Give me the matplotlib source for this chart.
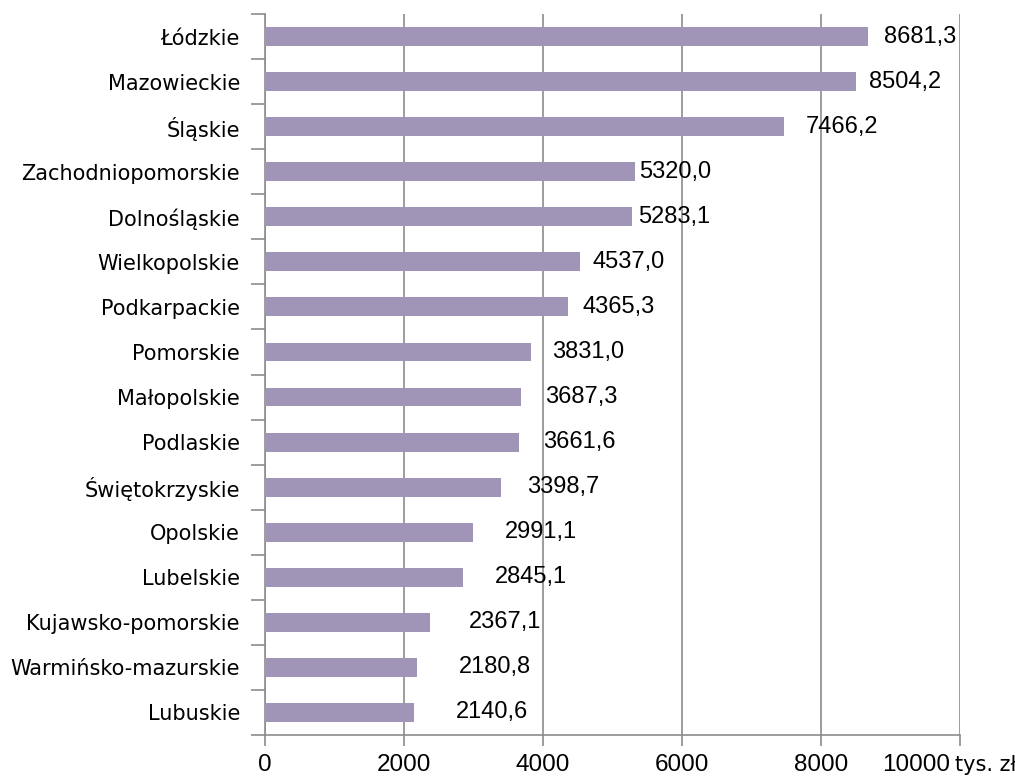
import matplotlib
matplotlib.use('Agg')
import matplotlib.pyplot as plt
from matplotlib.ticker import FixedLocator

regions = ['Łódzkie', 'Mazowieckie', 'Śląskie', 'Zachodniopomorskie', 'Dolnośląskie',
           'Wielkopolskie', 'Podkarpackie', 'Pomorskie', 'Małopolskie', 'Podlaskie',
           'Świętokrzyskie', 'Opolskie', 'Lubelskie', 'Kujawsko-pomorskie',
           'Warmińsko-mazurskie', 'Lubuskie']
values = [8681.3, 8504.2, 7466.2, 5320.0, 5283.1, 4537.0, 4365.3, 3831.0, 3687.3,
          3661.6, 3398.7, 2991.1, 2845.1, 2367.1, 2180.8, 2140.6]
xticks = [0, 2000, 4000, 6000, 8000, 10000]

# gap (pixels) between bar end and its label, as placed in the original
label_gap = [16, 13, 22, 4, 6, 12, 14, 21, 24, 24, 26, 32, 32, 39, 42, 42]

bar_color = '#a094b7'
grid_color = '#8c8c8c'

fig = plt.figure(figsize=(10.15, 7.77), dpi=100)
ax = fig.add_axes([265 / 1015, 42 / 777, 695 / 1015, 721 / 777])

ypos = list(range(len(regions)))
ax.barh(ypos, values, height=0.42, color=bar_color, zorder=3)
ax.set_ylim(len(regions) - 0.5, -0.5)
ax.set_xlim(0, 10000)

for y, v, g in zip(ypos, values, label_gap):
    ax.annotate(f'{v:.1f}'.replace('.', ','), (v, y), xytext=(g, 0),
                textcoords='offset pixels', ha='left', va='center',
                fontsize=17, family='Liberation Sans', zorder=4)

ax.set_yticks(ypos)
ax.set_yticklabels(regions, fontsize=15, family='DejaVu Sans')
ax.tick_params(axis='y', which='major', length=0, pad=18)
ax.yaxis.set_minor_locator(FixedLocator([i - 0.5 for i in range(len(regions) + 1)]))
ax.tick_params(axis='y', which='minor', length=10, color=grid_color, width=1.2)

ax.xaxis.set_major_locator(FixedLocator(xticks))
ax.set_xticklabels([str(t) for t in xticks[:-1]] + [''], fontsize=17.5,
                   family='Liberation Sans')
ax.tick_params(axis='x', length=8, color=grid_color, width=1.2, pad=6)
fig.text(882 / 1015, 1 - 765 / 777, str(xticks[-1]), fontsize=17.5,
         family='Liberation Sans', ha='left', va='center')
fig.text(955 / 1015, 1 - 765 / 777, 'tys. zł', fontsize=15, family='DejaVu Sans',
         ha='left', va='center')

ax.grid(axis='x', color=grid_color, linewidth=1.2, zorder=0)
for s in ['top', 'right']:
    ax.spines[s].set_visible(False)
for s in ['left', 'bottom']:
    ax.spines[s].set_color(grid_color)
    ax.spines[s].set_linewidth(1.2)

plt.savefig('out.png', dpi=100)
